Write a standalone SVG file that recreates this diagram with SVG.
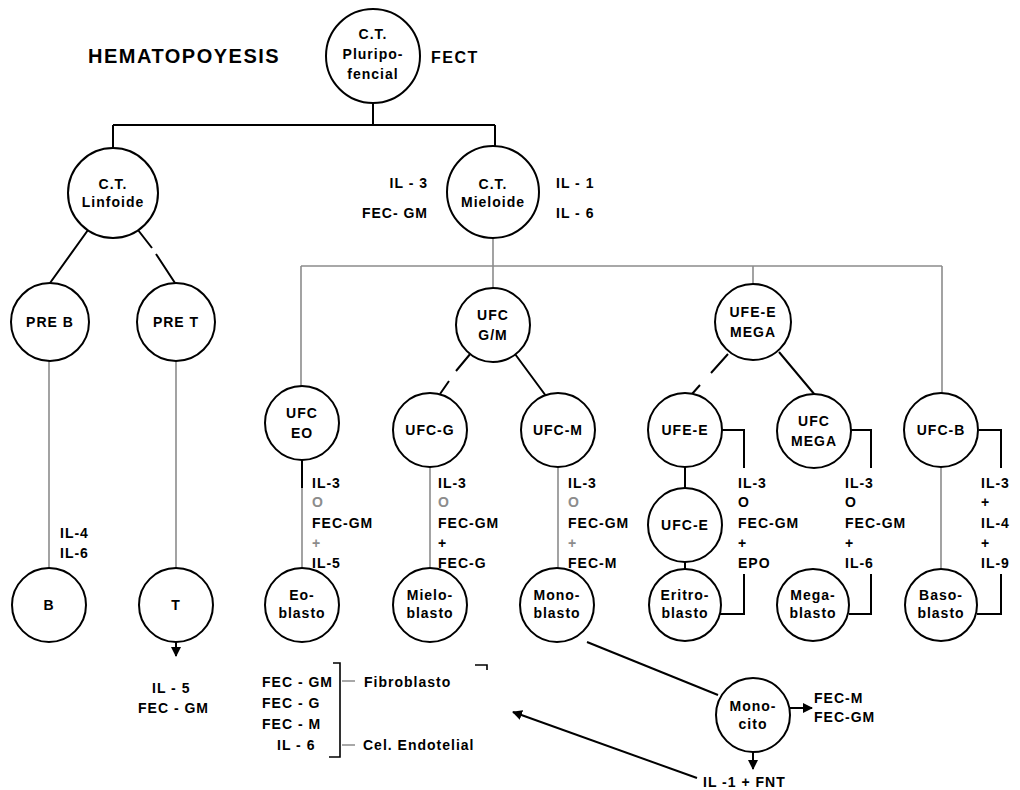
<svg xmlns="http://www.w3.org/2000/svg" width="1020" height="790" viewBox="0 0 1020 790">
<defs>
<marker id="ah" viewBox="0 0 10 10" refX="9" refY="5" markerWidth="5" markerHeight="5" orient="auto"><path d="M0,0 L10,5 L0,10 z" fill="#000"/></marker>
<style>
text{font-family:"Liberation Sans",Arial,sans-serif;font-weight:bold;font-size:14px;letter-spacing:1px;fill:#000}
.c{text-anchor:middle}
.e{text-anchor:end}
.n{fill:#fff;stroke:#000;stroke-width:2}
.k{stroke:#000;stroke-width:2;fill:none}
.g{stroke:#8c8c8c;stroke-width:1.6;fill:none}
.gt{fill:#8c8c8c}
.t{font-size:20px;font-weight:bold;letter-spacing:1.5px}
.f{font-size:16px;letter-spacing:1.5px}
</style>
</defs>
<rect width="1020" height="790" fill="#fff"/>
<text class="t" x="88" y="63">HEMATOPOYESIS</text>
<text class="f" x="431" y="63">FECT</text>

<g id="connectors">
<path class="k" d="M373,103 V125 M113,125 H495 M113,125 V148 M495,125 V146"/>
<path class="k" d="M88,230 L50,283 M138,230 L152,248 M156,254 L175,283"/>
<path class="g" d="M493,238 V266 M301,266 H942 M301,266 V386 M493,266 V288 M753,266 V284 M942,266 V393"/>
<path class="g" d="M49,361 V568 M176,361 V568"/>
<path class="k" d="M176,642 V656" marker-end="url(#ah)"/>
<path class="k" d="M302,460 V488"/>
<path class="g" d="M302,488 V568 M430,467 V568 M558,467 V568 M941,467 V568"/>
<path class="k" d="M471,353 L456,371 M449,381 L440,394 M515,354 L546,396"/>
<path class="k" d="M728,354 L711,373 M700,385 L692,394 M779,352 L815,395"/>
<path class="k" d="M685,467 V488 M685,562 V569"/>
<path class="k" d="M722,430 H744 V468 M744,574 V614 H720"/>
<path class="k" d="M851,430 H871 V468 M871,574 V614 H849"/>
<path class="k" d="M979,430 H1001 V468 M1001,574 V614 H977"/>
<path class="k" d="M587,642 L718,695"/>
<path class="k" d="M790,708 H812" marker-end="url(#ah)"/>
<path class="k" d="M753,752 V769" marker-end="url(#ah)"/>
<path class="k" d="M697,778 L513,712" marker-end="url(#ah)"/>
<path class="k" d="M333,663 H340 V757 H329" style="stroke-width:1.6"/>
<path class="g" d="M342,681 H355 M342,745 H355"/>
<path class="k" d="M475,665 H487 V670" style="stroke-width:1.6"/>
</g>

<g id="n-pluri"><circle class="n" cx="373" cy="56" r="47"/><text class="c" x="373" y="39">C.T.</text><text class="c" x="373" y="59">Pluripo-</text><text class="c" x="373" y="79">fencial</text></g>
<g id="n-linfoide"><circle class="n" cx="113" cy="193" r="45"/><text class="c" x="113" y="189">C.T.</text><text class="c" x="113" y="207">Linfoide</text></g>
<g id="n-mieloide"><circle class="n" cx="493" cy="192" r="46"/><text class="c" x="493" y="189">C.T.</text><text class="c" x="493" y="207">Mieloide</text></g>
<g id="lab-mieloide"><text class="e" x="428" y="188">IL - 3</text><text class="e" x="428" y="218">FEC- GM</text><text x="556" y="188">IL - 1</text><text x="556" y="218">IL - 6</text></g>

<g id="n-preb"><circle class="n" cx="50" cy="322" r="39"/><text class="c" x="50" y="327">PRE B</text></g>
<g id="n-pret"><circle class="n" cx="176" cy="322" r="39"/><text class="c" x="176" y="327">PRE T</text></g>
<g id="n-b"><circle class="n" cx="49" cy="605" r="37"/><text class="c" x="49" y="610">B</text></g>
<g id="n-t"><circle class="n" cx="176" cy="605" r="37"/><text class="c" x="176" y="610">T</text></g>
<g id="lab-b"><text x="60" y="538">IL-4</text><text x="60" y="558">IL-6</text></g>
<g id="lab-t"><text x="152" y="693">IL - 5</text><text x="138" y="713">FEC - GM</text></g>

<g id="n-ufcgm"><circle class="n" cx="493" cy="325" r="37"/><text class="c" x="493" y="320">UFC</text><text class="c" x="493" y="340">G/M</text></g>
<g id="n-ufeemega"><circle class="n" cx="753" cy="322" r="38"/><text class="c" x="753" y="317">UFE-E</text><text class="c" x="753" y="337">MEGA</text></g>

<g id="n-ufceo"><circle class="n" cx="302" cy="423" r="37"/><text class="c" x="302" y="418">UFC</text><text class="c" x="302" y="438">EO</text></g>
<g id="n-ufcg"><circle class="n" cx="430" cy="430" r="37"/><text class="c" x="430" y="435">UFC-G</text></g>
<g id="n-ufcm"><circle class="n" cx="558" cy="430" r="37"/><text class="c" x="558" y="435">UFC-M</text></g>
<g id="n-ufee"><circle class="n" cx="685" cy="430" r="37"/><text class="c" x="685" y="435">UFE-E</text></g>
<g id="n-ufcmega"><circle class="n" cx="814" cy="431" r="37"/><text class="c" x="814" y="426">UFC</text><text class="c" x="814" y="446">MEGA</text></g>
<g id="n-ufcb"><circle class="n" cx="941" cy="430" r="37"/><text class="c" x="941" y="435">UFC-B</text></g>
<g id="n-ufce"><circle class="n" cx="685" cy="525" r="37"/><text class="c" x="685" y="530">UFC-E</text></g>

<g id="lab-eo"><text x="312" y="488">IL-3</text><text class="gt" x="312" y="507">O</text><text x="312" y="528">FEC-GM</text><text class="gt" x="312" y="548">+</text><text x="312" y="568">IL-5</text></g>
<g id="lab-g"><text x="438" y="488">IL-3</text><text class="gt" x="438" y="507">O</text><text x="438" y="528">FEC-GM</text><text x="438" y="548">+</text><text x="438" y="568">FEC-G</text></g>
<g id="lab-m"><text x="568" y="488">IL-3</text><text class="gt" x="568" y="507">O</text><text x="568" y="528">FEC-GM</text><text class="gt" x="568" y="548">+</text><text x="568" y="568">FEC-M</text></g>
<g id="lab-e"><text x="738" y="488">IL-3</text><text x="738" y="507">O</text><text x="738" y="528">FEC-GM</text><text x="738" y="548">+</text><text x="738" y="568">EPO</text></g>
<g id="lab-mega"><text x="845" y="488">IL-3</text><text x="845" y="507">O</text><text x="845" y="528">FEC-GM</text><text x="845" y="548">+</text><text x="845" y="568">IL-6</text></g>
<g id="lab-bas"><text x="981" y="488">IL-3</text><text x="981" y="507">+</text><text x="981" y="528">IL-4</text><text x="981" y="548">+</text><text x="981" y="568">IL-9</text></g>

<g id="n-eoblasto"><circle class="n" cx="302" cy="605" r="37"/><text class="c" x="302" y="600">Eo-</text><text class="c" x="302" y="618">blasto</text></g>
<g id="n-mieloblasto"><circle class="n" cx="430" cy="605" r="37"/><text class="c" x="430" y="600">Mielo-</text><text class="c" x="430" y="618">blasto</text></g>
<g id="n-monoblasto"><circle class="n" cx="557" cy="605" r="37"/><text class="c" x="557" y="600">Mono-</text><text class="c" x="557" y="618">blasto</text></g>
<g id="n-eritroblasto"><circle class="n" cx="685" cy="605" r="36"/><text class="c" x="685" y="600">Eritro-</text><text class="c" x="685" y="618">blasto</text></g>
<g id="n-megablasto"><circle class="n" cx="813" cy="605" r="36"/><text class="c" x="813" y="600">Mega-</text><text class="c" x="813" y="618">blasto</text></g>
<g id="n-basoblasto"><circle class="n" cx="941" cy="605" r="36"/><text class="c" x="941" y="600">Baso-</text><text class="c" x="941" y="618">blasto</text></g>
<g id="n-monocito"><circle class="n" cx="753" cy="715" r="37"/><text class="c" x="753" y="711">Mono-</text><text class="c" x="753" y="729">cito</text></g>
<g id="lab-monocito"><text x="814" y="703">FEC-M</text><text x="814" y="722">FEC-GM</text><text x="703" y="787">IL -1 + FNT</text></g>

<g id="lab-fecs"><text x="262" y="687">FEC - GM</text><text x="262" y="708">FEC - G</text><text x="262" y="729">FEC - M</text><text x="277" y="750">IL - 6</text><text x="364" y="687">Fibroblasto</text><text x="363" y="750">Cel. Endotelial</text></g>
</svg>
